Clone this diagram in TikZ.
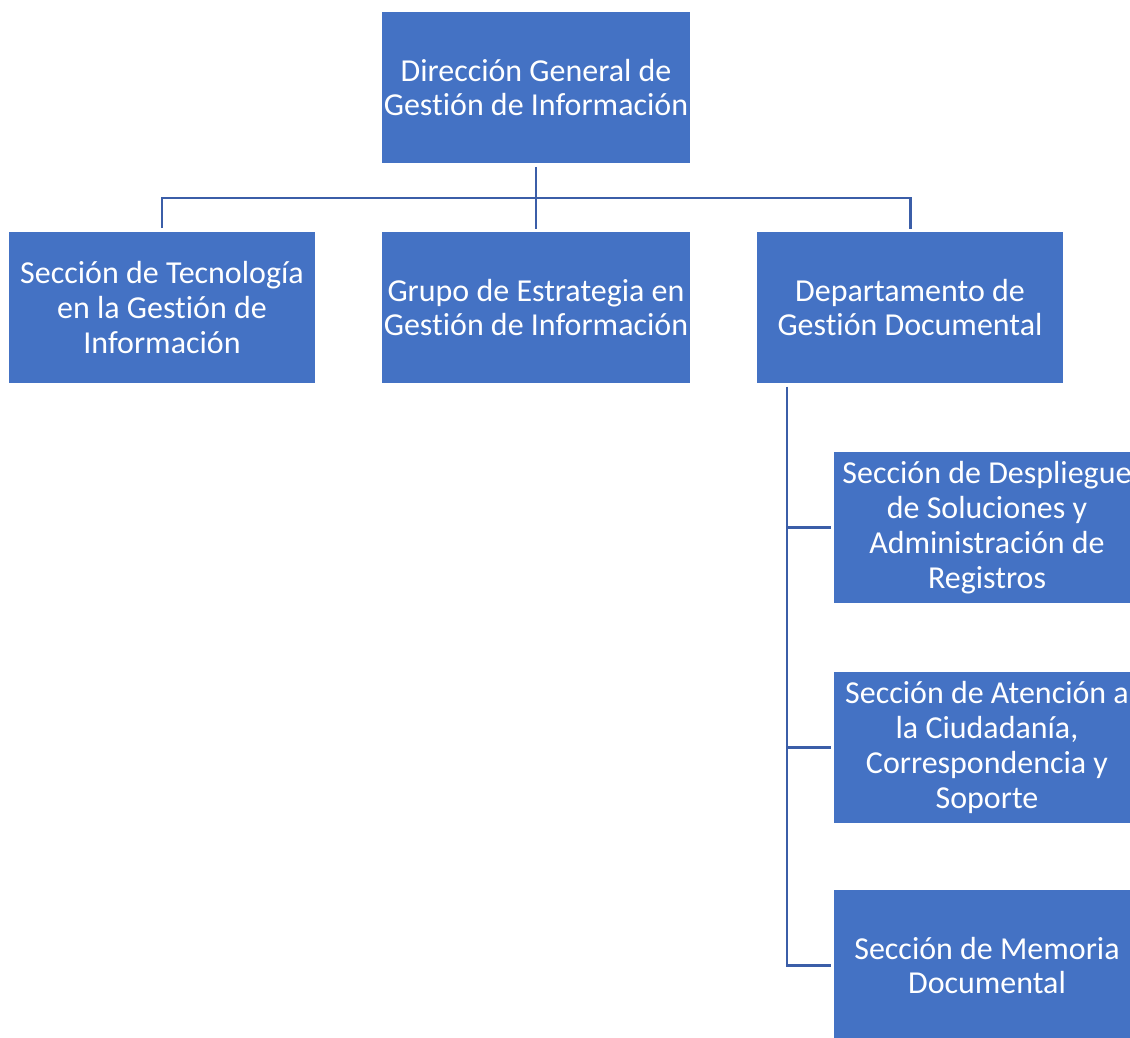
\documentclass[tikz,border=0pt]{standalone}
\usepackage{fontspec}
\setmainfont{Carlito}[Ligatures=NoCommon]
\usepackage{xcolor}
\usetikzlibrary{calc,positioning}
\definecolor{boxblue}{HTML}{4472C4}
\definecolor{lineblue}{RGB}{59,94,168}
\tikzset{%
	unit/.style = {draw=none, fill=boxblue, text=white, rectangle, minimum width=6.12cm, minimum height=3.02cm, text centered, align=center, inner sep=1pt, font=\fontsize{18.2}{19.8}\selectfont},
	link/.style = {draw=lineblue, line width=1.7pt, shorten <=0.07cm, shorten >=0.06cm},
}
\begin{document}
\begin{tikzpicture}[x=0.02cm,y=-0.02cm]
		\useasboundingbox (0,0) rectangle (1130,1038);
		% direccion y primer nivel
		\node[unit] (dir) at (536,87.5) {Dirección General de\\Gestión de Información};
		\node[unit] (tec) at (162,307.5) {Sección de Tecnología\\en la Gestión de\\Información};
		\node[unit] (grp) at (536,307.5) {Grupo de Estrategia en\\Gestión de Información};
		\node[unit] (dep) at (910,307.5) {Departamento de\\Gestión Documental};
		% secciones del departamento
		\node[unit] (sol) at (987,527.5) {Sección de Despliegue\\de Soluciones y\\Administración de\\Registros};
		\node[unit] (ate) at (987,747.5) {Sección de Atención a\\la Ciudadanía,\\Correspondencia y\\Soporte};
		\node[unit] (mem) at (987,965.5) {Sección de Memoria\\Documental};
		\coordinate (split) at (536,198);
		\coordinate (bus) at (787,383);
		\draw[link] (dir.south) -- (grp.north);
		\draw[link] (tec.north) |- (split) -| (dep.north);
		\draw[link] (bus) |- (mem.west);
		\draw[link, shorten <=0pt] (bus |- sol.west) -- (sol.west);
		\draw[link, shorten <=0pt] (bus |- ate.west) -- (ate.west);
	\end{tikzpicture}
\end{document}
